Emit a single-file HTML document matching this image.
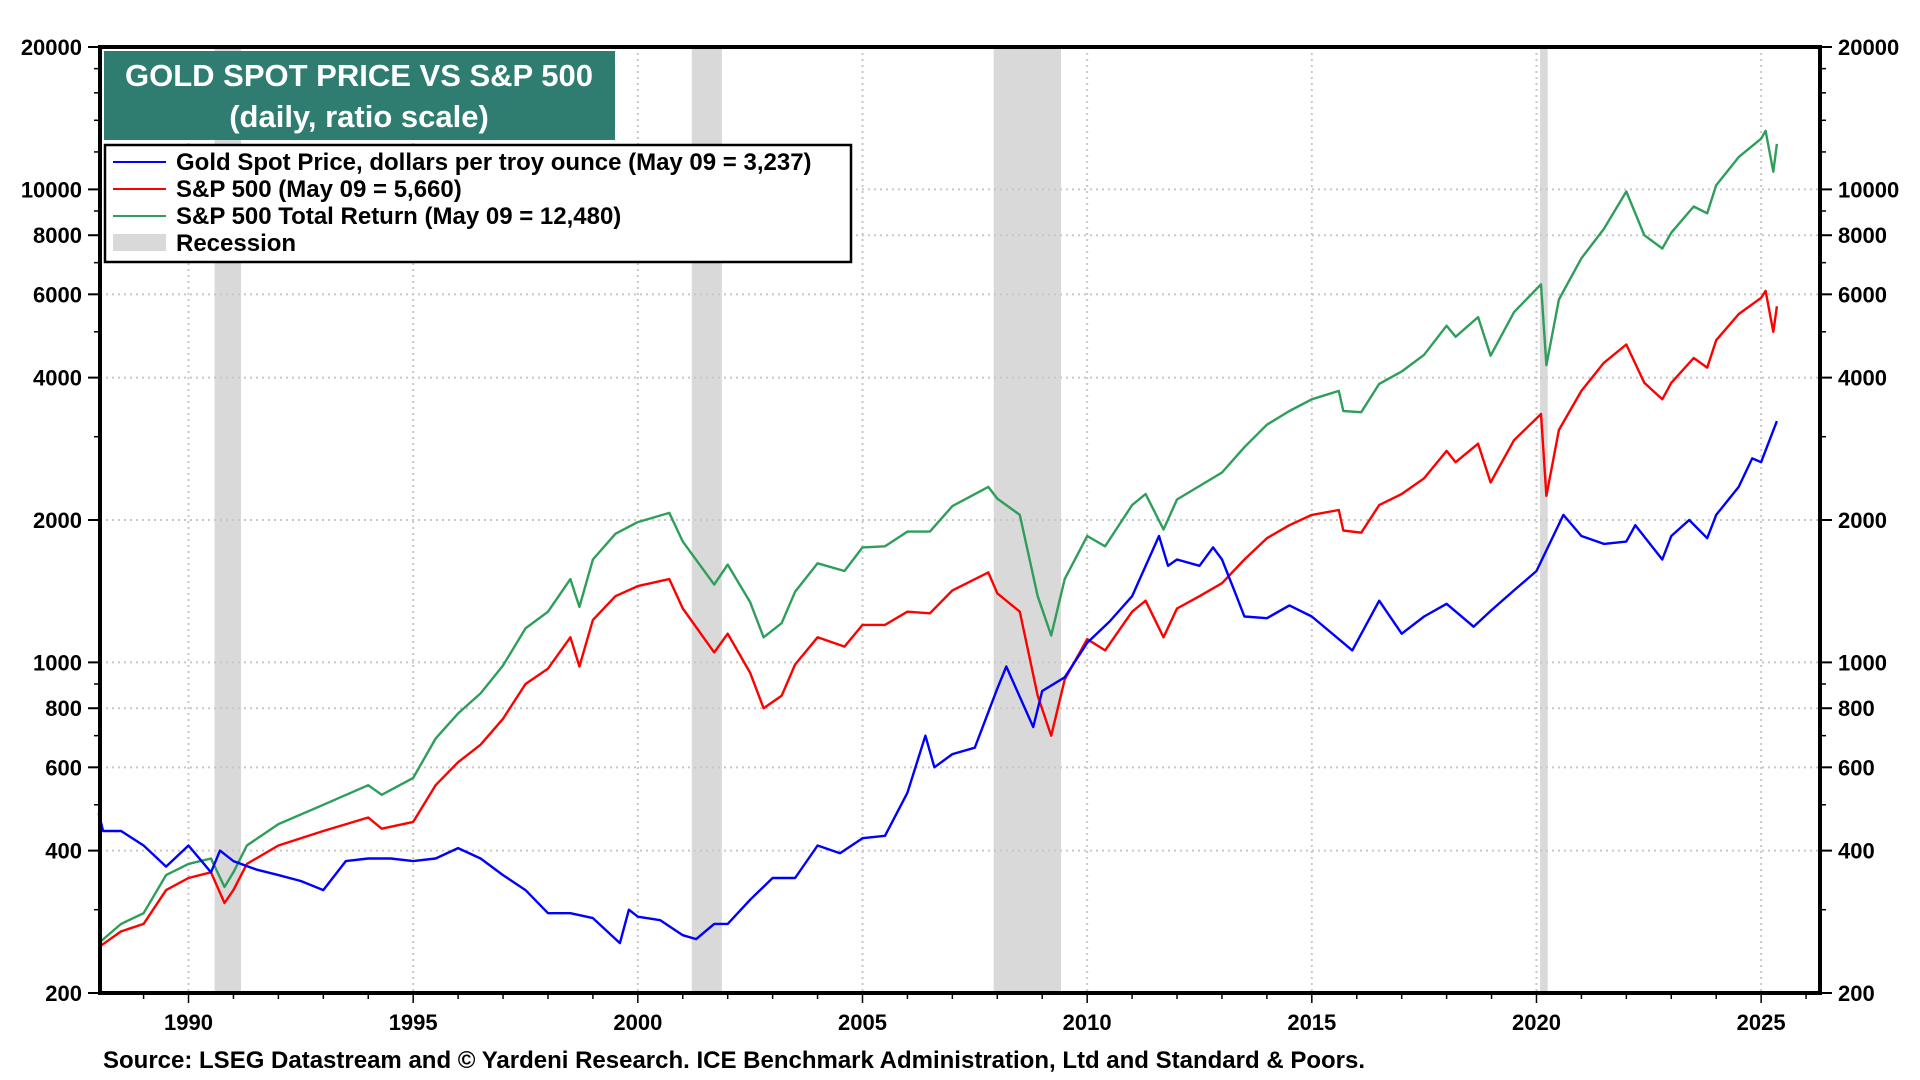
<!DOCTYPE html>
<html><head><meta charset="utf-8"><style>
html,body{margin:0;padding:0;background:#fff;}
svg{display:block;font-family:"Liberation Sans",Arial,sans-serif;font-weight:bold;}
</style></head><body>
<svg id="chart" width="1920" height="1080" viewBox="0 0 1920 1080">
<g id="rec"></g>
<g id="grid"></g>
<g id="series"></g>
<rect x="100" y="47" width="1720" height="946" fill="none" stroke="#000" stroke-width="4"/>
<g id="axes"></g>
<g>
<rect x="104" y="51" width="511" height="89" fill="#2e7d70"/>
<text x="359" y="86" text-anchor="middle" fill="#fff" font-size="31">GOLD SPOT PRICE VS S&amp;P 500</text>
<text x="359" y="127" text-anchor="middle" fill="#fff" font-size="31">(daily, ratio scale)</text>
</g>
<g>
<rect x="105" y="145" width="746" height="117" fill="#fff" stroke="#000" stroke-width="2.5"/>
<line x1="113" y1="162" x2="166" y2="162" stroke="#0000ff" stroke-width="2"/>
<text x="176" y="170" font-size="24">Gold Spot Price, dollars per troy ounce (May 09 = 3,237)</text>
<line x1="113" y1="189" x2="166" y2="189" stroke="#ff0000" stroke-width="2"/>
<text x="176" y="197" font-size="24">S&amp;P 500 (May 09 = 5,660)</text>
<line x1="113" y1="216" x2="166" y2="216" stroke="#2e9e5a" stroke-width="2"/>
<text x="176" y="224" font-size="24">S&amp;P 500 Total Return (May 09 = 12,480)</text>
<rect x="113" y="234" width="53" height="17" fill="#d9d9d9"/>
<text x="176" y="251" font-size="24">Recession</text>
</g>
<text x="103" y="1068" font-size="24">Source: LSEG Datastream and © Yardeni Research. ICE Benchmark Administration, Ltd and Standard &amp; Poors.</text>
</svg>
<script>
const yTicks=[200,400,600,800,1000,2000,4000,6000,8000,10000,20000];
const yMinor=[300,500,700,900,3000,5000,7000,9000,12000,14000,16000,18000];
const xTicks=[1990,1995,2000,2005,2010,2015,2020,2025];
const recStart=[1990.58,2001.2,2007.92,2020.08];
const recEnd=[1991.17,2001.87,2009.42,2020.25];
const goldDates=[1988.0,1988.1,1988.5,1989.0,1989.5,1990.0,1990.5,1990.7,1991.0,1991.5,1992.0,1992.5,1993.0,1993.5,1994.0,1994.5,1995.0,1995.5,1996.0,1996.5,1997.0,1997.5,1998.0,1998.5,1999.0,1999.6,1999.8,2000.0,2000.5,2001.0,2001.3,2001.7,2002.0,2002.5,2003.0,2003.5,2004.0,2004.5,2005.0,2005.5,2006.0,2006.4,2006.6,2007.0,2007.5,2008.0,2008.2,2008.8,2009.0,2009.5,2010.0,2010.5,2011.0,2011.6,2011.8,2012.0,2012.5,2012.8,2013.0,2013.3,2013.5,2014.0,2014.5,2015.0,2015.9,2016.5,2017.0,2017.5,2018.0,2018.6,2019.0,2019.5,2020.0,2020.6,2021.0,2021.5,2022.0,2022.2,2022.8,2023.0,2023.4,2023.8,2024.0,2024.5,2024.8,2025.0,2025.35];
const goldValues=[480,440,440,410,370,410,360,400,380,365,355,345,330,380,385,385,380,385,405,385,355,330,295,295,288,255,300,290,285,265,260,280,280,315,350,350,410,395,425,430,530,700,600,640,660,880,980,730,870,930,1100,1220,1380,1850,1600,1650,1600,1750,1650,1400,1250,1240,1320,1250,1060,1350,1150,1250,1330,1190,1290,1420,1560,2050,1850,1780,1800,1950,1650,1850,2000,1830,2050,2350,2700,2650,3237];
const spDates=[1988.0,1988.5,1989.0,1989.5,1990.0,1990.5,1990.8,1991.0,1991.3,1992.0,1993.0,1994.0,1994.3,1995.0,1995.5,1996.0,1996.5,1997.0,1997.5,1998.0,1998.5,1998.7,1999.0,1999.5,2000.0,2000.7,2001.0,2001.7,2002.0,2002.5,2002.8,2003.2,2003.5,2004.0,2004.6,2005.0,2005.5,2006.0,2006.5,2007.0,2007.8,2008.0,2008.5,2008.9,2009.2,2009.5,2010.0,2010.4,2011.0,2011.3,2011.7,2012.0,2012.5,2013.0,2013.5,2014.0,2014.5,2015.0,2015.6,2015.7,2016.1,2016.5,2017.0,2017.5,2018.0,2018.2,2018.7,2018.98,2019.5,2020.1,2020.22,2020.5,2021.0,2021.5,2022.0,2022.4,2022.8,2023.0,2023.5,2023.8,2024.0,2024.5,2025.0,2025.1,2025.27,2025.35];
const spValues=[250,270,280,330,350,360,310,330,375,410,440,470,445,460,550,615,670,760,900,970,1130,980,1230,1380,1450,1500,1300,1050,1150,950,800,850,990,1130,1080,1200,1200,1280,1270,1420,1550,1400,1280,850,700,920,1120,1060,1280,1350,1130,1300,1380,1470,1650,1830,1950,2050,2100,1900,1880,2150,2270,2450,2800,2650,2900,2400,2950,3350,2250,3100,3750,4300,4700,3900,3600,3900,4400,4200,4800,5450,5900,6100,5000,5660];
const trValues=[255,280,295,355,375,385,335,360,410,455,500,550,525,570,690,780,860,985,1180,1280,1500,1310,1650,1870,1980,2070,1800,1460,1610,1340,1130,1210,1410,1620,1560,1750,1760,1890,1890,2140,2350,2220,2050,1380,1140,1500,1850,1760,2150,2270,1910,2210,2360,2520,2850,3180,3400,3600,3750,3400,3380,3880,4120,4470,5150,4880,5370,4450,5500,6300,4250,5850,7150,8250,9900,8000,7500,8100,9200,8900,10200,11700,12800,13300,10900,12480];

const X0=100,X1=1820,T0=1988.03,T1=2026.31,YT=47,YB=993;
const xs=t=>X0+(t-T0)/(T1-T0)*(X1-X0);
const ys=v=>YB-(Math.log10(v)-Math.log10(200))/2*(YB-YT);
const NS='http://www.w3.org/2000/svg';
function mk(tag,attrs,parent){const e=document.createElementNS(NS,tag);for(const k in attrs)e.setAttribute(k,attrs[k]);parent.appendChild(e);return e;}
const rec=document.getElementById('rec'),grid=document.getElementById('grid'),ser=document.getElementById('series'),axes=document.getElementById('axes');
for(let i=0;i<recStart.length;i++){
 const r=mk('rect',{x:xs(recStart[i]),y:YT,width:xs(recEnd[i])-xs(recStart[i]),height:YB-YT,fill:'#d9d9d9'},rec);
 
 
}
yTicks.forEach(v=>{
 const y=ys(v);
 if(v>200&&v<20000){const g=mk('line',{x1:X0,x2:X1,y1:y,y2:y,stroke:'#c8c8c8','stroke-width':2,'stroke-dasharray':'2,4'},grid);
 }
 mk('line',{x1:X0-12,x2:X0,y1:y,y2:y,stroke:'#000','stroke-width':2},axes);
 mk('line',{x1:X1,x2:X1+12,y1:y,y2:y,stroke:'#000','stroke-width':2},axes);
 const l=mk('text',{x:X0-18,y:y+8,'text-anchor':'end','font-size':22},axes);l.textContent=v;
 
 const r=mk('text',{x:X1+18,y:y+8,'font-size':22},axes);r.textContent=v;
 
});
yMinor.forEach(v=>{const y=ys(v);
 mk('line',{x1:X0-6,x2:X0,y1:y,y2:y,stroke:'#000','stroke-width':1.5},axes);
 mk('line',{x1:X1,x2:X1+6,y1:y,y2:y,stroke:'#000','stroke-width':1.5},axes);});
for(let yr=1989;yr<=2026;yr++){const x=xs(yr);mk('line',{x1:x,x2:x,y1:YB,y2:YB+(yr%5==0?10:6),stroke:'#000','stroke-width':1.5},axes);}
xTicks.forEach(t=>{const x=xs(t);
 const g=mk('line',{x1:x,x2:x,y1:YT,y2:YB,stroke:'#c8c8c8','stroke-width':2,'stroke-dasharray':'2,4'},grid);
 
 const l=mk('text',{x:x,y:YB+37,'text-anchor':'middle','font-size':22},axes);l.textContent=t;
 });
function line(dates,vals,color,name){
 const d=dates.map((t,i)=>(i?'L':'M')+xs(t).toFixed(1)+','+ys(vals[i]).toFixed(1)).join('');
 const p=mk('path',{d:d,fill:'none',stroke:color,'stroke-width':2.4,'stroke-linejoin':'round'},ser);
 
 
}
line(spDates,trValues,'#2e9e5a','sp500-total-return-line');
line(spDates,spValues,'#ff0000','sp500-line');
line(goldDates,goldValues,'#0000ff','gold-price-line');
</script>
</body></html>
